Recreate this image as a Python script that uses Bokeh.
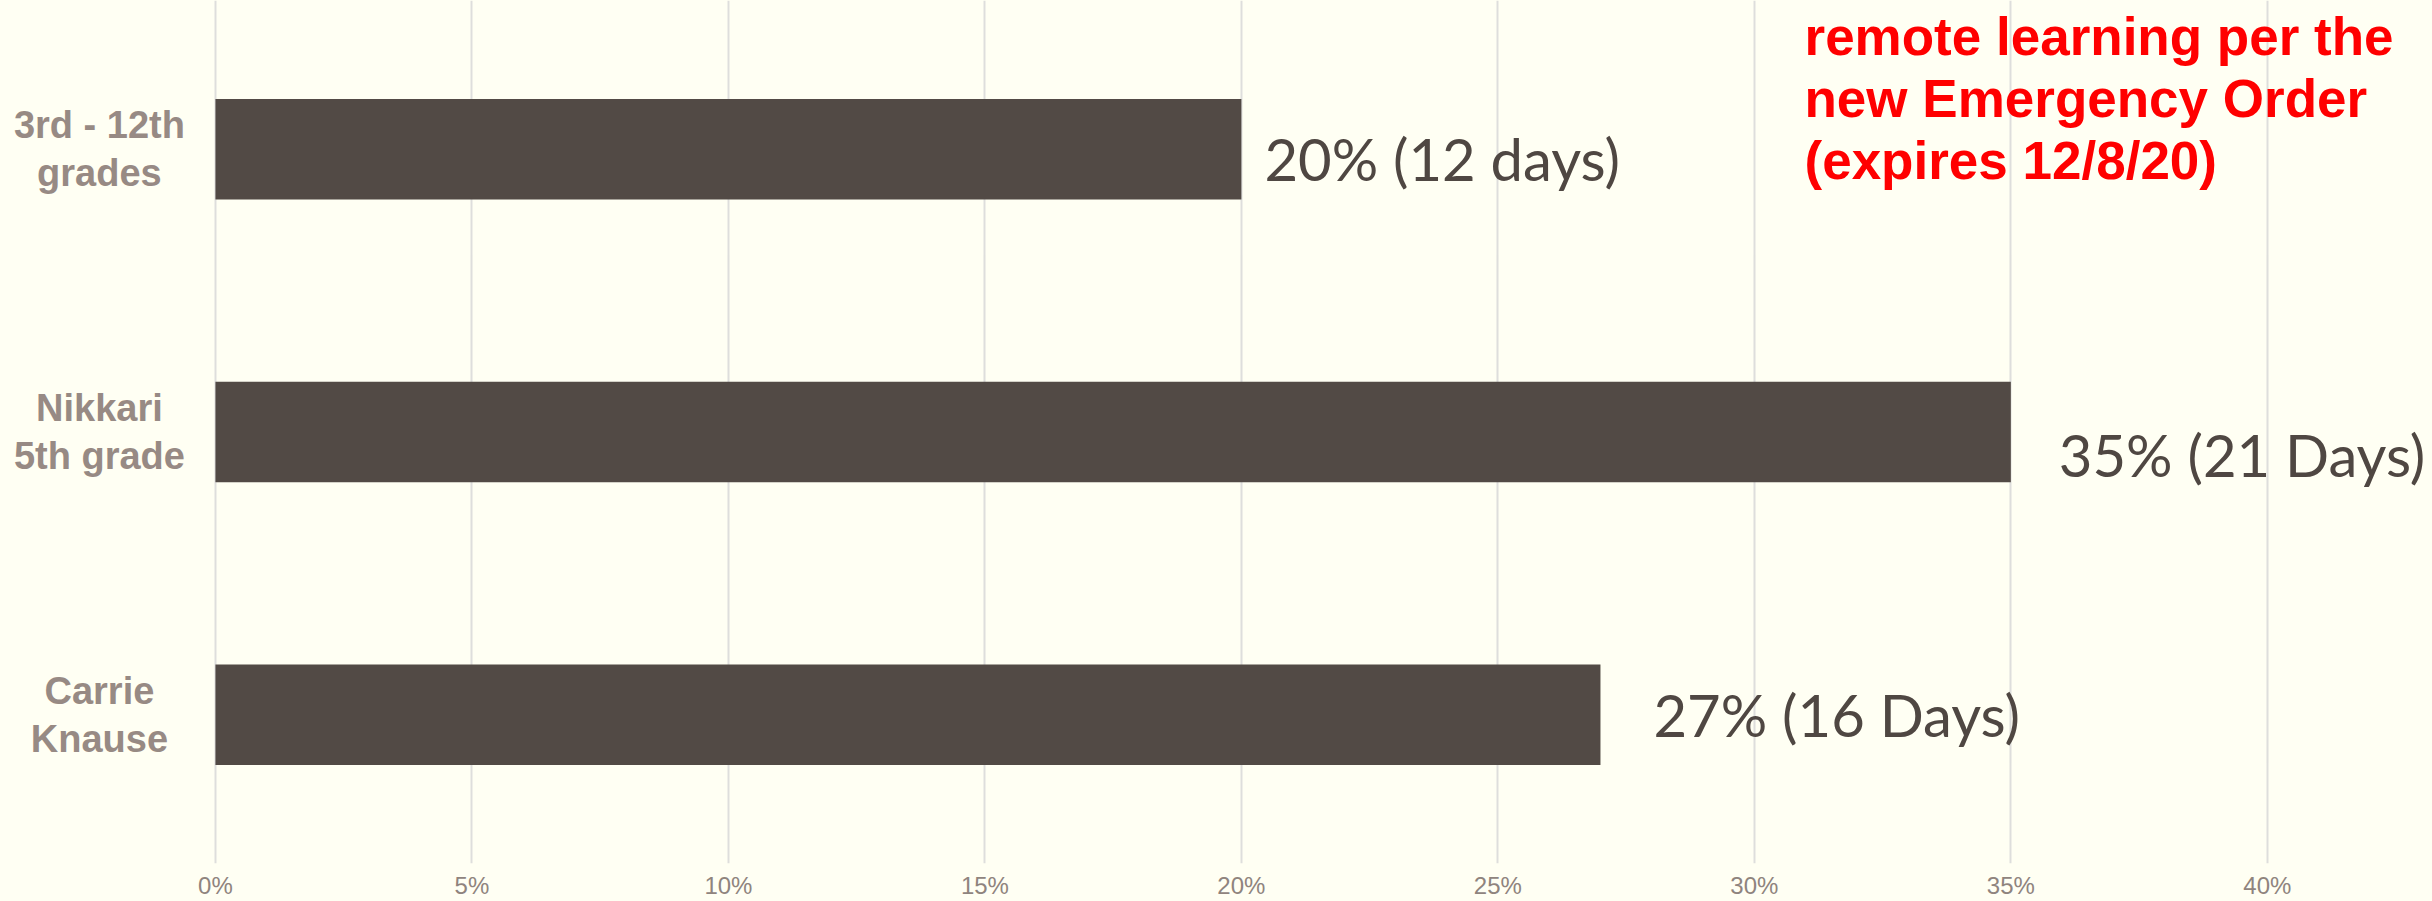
from bokeh.plotting import figure
from bokeh.models import Range1d, FactorRange, FixedTicker, ColumnDataSource, Label
from bokeh.core.properties import value
from bokeh.embed import file_html
from bokeh.resources import INLINE

# ---- data ----
categories = ["3rd - 12th\ngrades", "Nikkari\n5th grade", "Carrie\nKnause"]
percents = [20, 35, 27]
bar_labels = ["20% (12 days)", "35% (21 Days)", "27% (16 Days)"]
x_ticks = [0, 5, 10, 15, 20, 25, 30, 35, 40]
tick_labels = ["0%", "5%", "10%", "15%", "20%", "25%", "30%", "35%", "40%"]
note_lines = ["remote learning per the", "new Emergency Order", "(expires 12/8/20)"]

# ---- styles ----
BG = "#FFFFF3"
BAR = "#524A45"
VAL_TXT = "#4F4742"
CAT_TXT = "#978A84"
TICK_TXT = "#8F847E"
GRID = "#DEDEDC"
label_dx = [23, 48, 53]
label_dy = [9, 22, 0]

src = ColumnDataSource(dict(cat=categories, pct=percents, lab=bar_labels,
                            dx=label_dx, dy=label_dy))

p = figure(width=2432, height=901,
           x_range=Range1d(-4.19, 43.22),
           y_range=FactorRange(factors=list(reversed(categories)),
                               range_padding=0.026, range_padding_units="absolute"),
           output_backend="svg", toolbar_location=None,
           min_border_left=0, min_border_right=0, min_border_top=0, min_border_bottom=37)

p.background_fill_color = BG
p.border_fill_color = BG
p.outline_line_color = None

p.yaxis.visible = False
p.ygrid.visible = False

p.xaxis.ticker = FixedTicker(ticks=x_ticks)
p.xaxis.major_label_overrides = {t: l for t, l in zip(x_ticks, tick_labels)}
p.xaxis.axis_line_color = None
p.xaxis.major_tick_line_color = None
p.xaxis.minor_tick_line_color = None
p.xaxis.major_tick_out = 0
p.xaxis.minor_tick_out = 0
p.xaxis.major_label_text_font = "Liberation Sans"
p.xaxis.major_label_text_font_size = "24px"
p.xaxis.major_label_text_color = TICK_TXT
p.xaxis.major_label_standoff = 8
p.xgrid.grid_line_color = GRID
p.xgrid.grid_line_width = 2

p.hbar(y="cat", left=0, right="pct", height=0.355, source=src,
       fill_color=BAR, line_color=None)

p.text(x="pct", y="cat", text="lab", x_offset="dx", y_offset="dy", source=src,
       text_font=value("Lato"), text_font_size="58px", text_color=VAL_TXT,
       text_align="left", text_baseline="alphabetic")

p.text(x=0, y="cat", text="cat", x_offset=-116, source=src,
       text_font=value("Liberation Sans"), text_font_style="bold",
       text_font_size="38px", text_color=CAT_TXT, text_line_height=1.15,
       text_align="center", text_baseline="middle")

for i, line in enumerate(note_lines):
    p.add_layout(Label(x=1804, y=827 - 62 * i, x_units="screen", y_units="screen",
                       text=line, text_font="Liberation Sans", text_font_style="bold",
                       text_font_size="53px", text_color="#FF0000",
                       text_align="left", text_baseline="alphabetic"))

html = file_html(p, INLINE)
html = html.replace("<head>", "<head><style>body{background:%s;}</style>" % BG, 1)
open("out.html", "w").write(html)
